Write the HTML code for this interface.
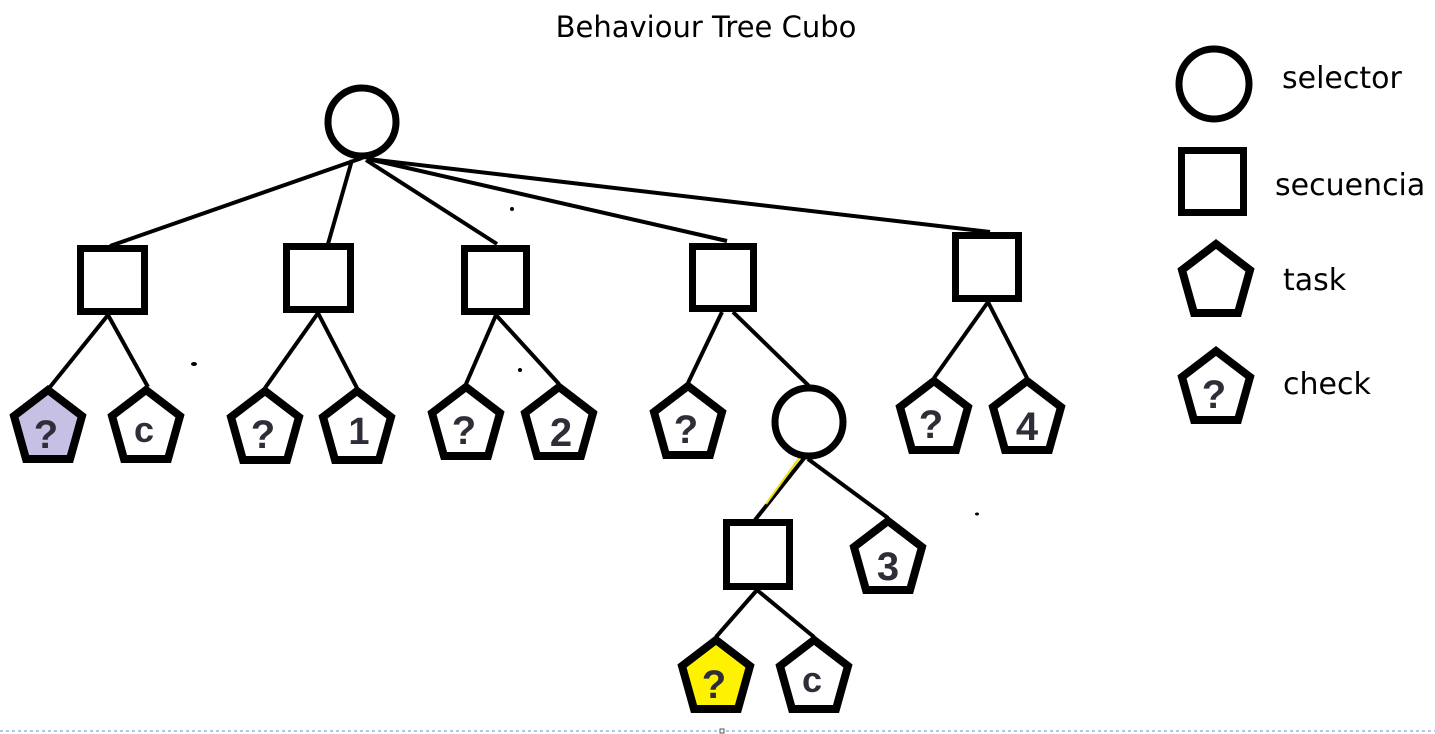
<!DOCTYPE html>
<html><head><meta charset="utf-8"><style>
html,body{margin:0;padding:0;background:#fff;}
svg{display:block;}
.g{font-family:"Liberation Sans",sans-serif;font-weight:bold;font-size:40px;fill:#2e2e38;text-anchor:middle;}
.t{font-family:"DejaVu Sans","Liberation Sans",sans-serif;font-size:30px;fill:#000;}
</style></head><body>
<svg width="1435" height="734" viewBox="0 0 1435 734" xmlns="http://www.w3.org/2000/svg">
<defs>
<polygon id="pg" points="0,4 -34,30 -22,73 22,73 34,30" stroke="#000" stroke-width="8" stroke-linejoin="miter"/>
</defs>
<text x="706" y="37" class="t" text-anchor="middle" style="font-size:29px">Behaviour Tree Cubo</text>
<g stroke="#000" stroke-width="4" fill="none">
<line x1="362" y1="158" x2="110" y2="246"/>
<line x1="352" y1="160" x2="328" y2="244"/>
<line x1="366" y1="160" x2="497" y2="244"/>
<line x1="368" y1="159" x2="727" y2="241"/>
<line x1="368" y1="159" x2="990" y2="232"/>
<line x1="108" y1="315" x2="50" y2="387"/>
<line x1="108" y1="315" x2="148" y2="387"/>
<line x1="318" y1="313" x2="265" y2="388"/>
<line x1="318" y1="313" x2="357" y2="388"/>
<line x1="496" y1="315" x2="466" y2="384"/>
<line x1="496" y1="315" x2="559" y2="384"/>
<line x1="722" y1="312" x2="688" y2="383"/>
<line x1="733" y1="312" x2="809" y2="386"/>
<line x1="988" y1="302" x2="934" y2="378"/>
<line x1="988" y1="302" x2="1027" y2="378"/>
<line x1="805" y1="457" x2="755" y2="520"/>
<line x1="808" y1="459" x2="888" y2="518"/>
<line x1="757" y1="590" x2="716" y2="637"/>
<line x1="757" y1="590" x2="814" y2="637"/>
</g>
<line x1="800" y1="457" x2="766" y2="504" stroke="#f0e000" stroke-width="2"/>
<g fill="#fff" stroke="#000" stroke-width="7">
<circle cx="362" cy="122" r="34"/>
<circle cx="809" cy="422" r="34"/>
<circle cx="1214" cy="84" r="35"/>
<rect x="80.5" y="248.5" width="64" height="63"/>
<rect x="286.5" y="246.5" width="64" height="63"/>
<rect x="464.5" y="248.5" width="62" height="63"/>
<rect x="692.5" y="246.5" width="61" height="62"/>
<rect x="955.5" y="235.5" width="63" height="63"/>
<rect x="726.5" y="522.5" width="63" height="64"/>
<rect x="1181.5" y="150.5" width="62" height="62"/>
</g>
<use href="#pg" x="48" y="386" fill="#c5c0e4"/>
<use href="#pg" x="146" y="386" fill="#fff"/>
<use href="#pg" x="265" y="387" fill="#fff"/>
<use href="#pg" x="357" y="387" fill="#fff"/>
<use href="#pg" x="466" y="383" fill="#fff"/>
<use href="#pg" x="559" y="383" fill="#fff"/>
<use href="#pg" x="688" y="382" fill="#fff"/>
<use href="#pg" x="934" y="377" fill="#fff"/>
<use href="#pg" x="1027" y="377" fill="#fff"/>
<use href="#pg" x="888" y="517" fill="#fff"/>
<use href="#pg" x="716" y="636" fill="#fff200"/>
<use href="#pg" x="814" y="636" fill="#fff"/>
<use href="#pg" x="1216" y="240" fill="#fff"/>
<use href="#pg" x="1216" y="347" fill="#fff"/>
<text class="g" x="46" y="448">?</text>
<text class="g" x="144" y="442" style="font-size:36px">c</text>
<text class="g" x="263" y="448">?</text>
<text class="g" x="359" y="444" style="font-size:38px">1</text>
<text class="g" x="464" y="444">?</text>
<text class="g" x="561" y="446">2</text>
<text class="g" x="686" y="443">?</text>
<text class="g" x="931" y="438">?</text>
<text class="g" x="1027" y="440">4</text>
<text class="g" x="888" y="580">3</text>
<text class="g" x="714" y="698">?</text>
<text class="g" x="812" y="692" style="font-size:36px">c</text>
<text class="g" x="1214" y="408">?</text>
<text class="t" x="1282" y="88">selector</text>
<text class="t" x="1275" y="195">secuencia</text>
<text class="t" x="1283" y="290">task</text>
<text class="t" x="1283" y="394">check</text>
<ellipse cx="194" cy="364" rx="3" ry="2" fill="#000"/>
<ellipse cx="512" cy="209" rx="2" ry="2" fill="#000"/>
<ellipse cx="520" cy="370" rx="2" ry="2" fill="#000"/>
<ellipse cx="977" cy="514" rx="2" ry="1.5" fill="#000"/>
<line x1="0" y1="731" x2="1435" y2="731" stroke="#6a8fc8" stroke-width="1" stroke-dasharray="3,3"/>
<rect x="720" y="729" width="4" height="4" fill="#fff" stroke="#555" stroke-width="1"/>
</svg>
</body></html>
